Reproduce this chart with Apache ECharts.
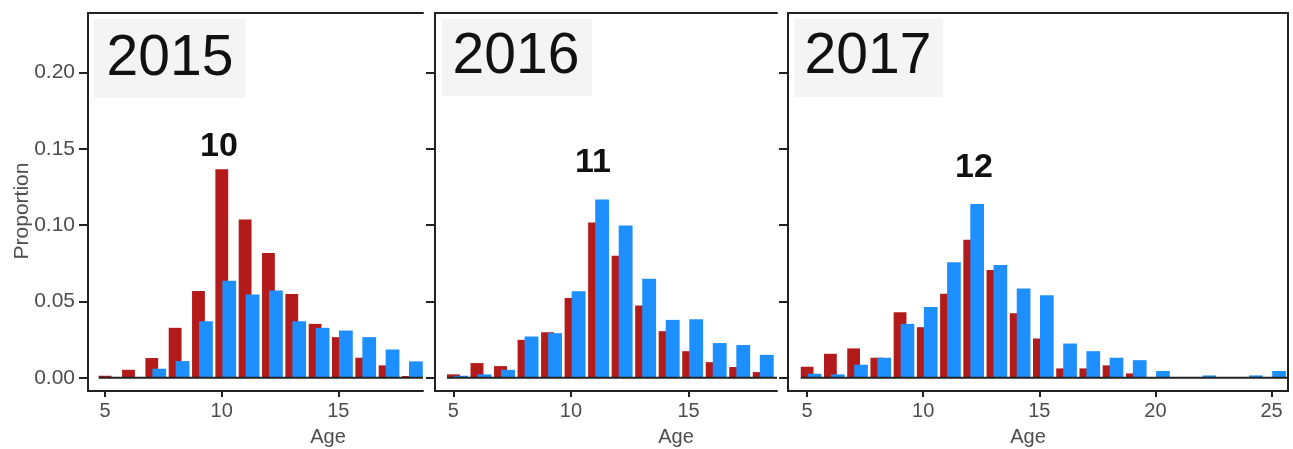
<!DOCTYPE html>
<html>
<head>
<meta charset="utf-8">
<script src="https://cdn.jsdelivr.net/npm/echarts@6/dist/echarts.min.js"></script>
<style>
html,body{margin:0;padding:0;background:#fff;}
#chart{width:1293px;height:449px;}
</style>
</head>
<body>
<div id="chart"></div>
<script>
// ---- data ----
const years = ['2015', '2016', '2017'];
const peakLabels = ['10', '11', '12'];
const ages2015 = [5, 6, 7, 8, 9, 10, 11, 12, 13, 14, 15, 16, 17, 18];
const red2015  = [0.0013, 0.0052, 0.0129, 0.0327, 0.0569, 0.1366, 0.1037, 0.0817, 0.0549, 0.0353, 0.0266, 0.0131, 0.0081, 0.0011];
const blue2015 = [0, 0, 0.0059, 0.0109, 0.0370, 0.0636, 0.0545, 0.0571, 0.0370, 0.0327, 0.0309, 0.0266, 0.0185, 0.0107];
const ages2016 = [5, 6, 7, 8, 9, 10, 11, 12, 13, 14, 15, 16, 17, 18];
const red2016  = [0.0022, 0.0096, 0.0076, 0.0248, 0.0298, 0.0523, 0.1017, 0.0800, 0.0473, 0.0305, 0.0174, 0.0102, 0.0070, 0.0037];
const blue2016 = [0.0013, 0.0022, 0.0052, 0.0270, 0.0292, 0.0566, 0.1168, 0.0998, 0.0649, 0.0379, 0.0383, 0.0227, 0.0214, 0.0150];
const ages2017 = [5, 6, 7, 8, 9, 10, 11, 12, 13, 14, 15, 16, 17, 18, 19, 20, 21, 22, 23, 24, 25];
const red2017  = [0.0072, 0.0157, 0.0192, 0.0131, 0.0429, 0.0331, 0.0551, 0.0904, 0.0706, 0.0423, 0.0257, 0.0061, 0.0061, 0.0081, 0.0028, 0, 0, 0, 0, 0, 0];
const blue2017 = [0.0026, 0.0022, 0.0085, 0.0131, 0.0353, 0.0464, 0.0756, 0.1139, 0.0739, 0.0584, 0.0540, 0.0224, 0.0174, 0.0131, 0.0115, 0.0044, 0, 0.0015, 0, 0.0015, 0.0044];
const yTicks = [0, 0.05, 0.10, 0.15, 0.20];
const xTicksShort = [5, 10, 15];
const xTicksLong = [5, 10, 15, 20, 25];

// ---- layout / style ----
const FONT = "'Liberation Sans', Arial, sans-serif";
const RED = '#b31b1b', BLUE = '#1e8fff', LINE = '#222';
const panels = [
  {ages: ages2015, red: red2015, blue: blue2015, xmin: 4.27, xmax: 18.63, ticks: xTicksShort, grid: {left: 88, top: 13, width: 335, height: 378}, labels: true, right: false},
  {ages: ages2016, red: red2016, blue: blue2016, xmin: 4.22, xmax: 18.76, ticks: xTicksShort, grid: {left: 435, top: 13, width: 342, height: 378}, labels: false, right: false},
  {ages: ages2017, red: red2017, blue: blue2017, xmin: 4.18, xmax: 25.71, ticks: xTicksLong, grid: {left: 788, top: 13, width: 500, height: 378}, labels: false, right: true}
];
const YMIN = -0.0087, YMAX = 0.239;

function barRenderer(l, r, color) {
  return function (params, api) {
    const age = api.value(0), v = api.value(1);
    if (!v) return null;
    const p0 = api.coord([age + l, v]);
    const p1 = api.coord([age + r, 0]);
    return {type: 'rect', shape: {x: p0[0], y: p0[1], width: p1[0] - p0[0], height: p1[1] - p0[1]}, style: {fill: color}};
  };
}

const grid = [], xAxis = [], yAxis = [], series = [];
panels.forEach((p, i) => {
  grid.push(Object.assign({containLabel: false}, p.grid));
  const xb = xAxis.length;
  xAxis.push({
    type: 'value', gridIndex: i, min: p.xmin, max: p.xmax, position: 'bottom',
    axisLine: {show: true, onZero: false, lineStyle: {color: LINE, width: 2}},
    axisTick: {show: true, inside: false, customValues: p.ticks, length: 6, lineStyle: {color: LINE, width: 2}},
    axisLabel: {show: true, customValues: p.ticks, margin: 10, color: '#4d4d4d', fontSize: 20, fontFamily: FONT},
    splitLine: {show: false}
  });
  xAxis.push({
    type: 'value', gridIndex: i, min: p.xmin, max: p.xmax, position: 'top',
    axisLine: {show: true, onZero: false, lineStyle: {color: LINE, width: 2}},
    axisTick: {show: false}, axisLabel: {show: false}, splitLine: {show: false}
  });
  const yl = yAxis.length;
  yAxis.push({
    type: 'value', gridIndex: i, min: YMIN, max: YMAX, position: 'left',
    axisLine: {show: true, onZero: false, lineStyle: {color: LINE, width: 2}},
    axisTick: {show: true, inside: false, customValues: yTicks, length: 9, lineStyle: {color: LINE, width: 2}},
    axisLabel: {show: p.labels, customValues: yTicks, margin: 13, color: '#4d4d4d', fontSize: 21, fontFamily: FONT,
      formatter: v => Number(v).toFixed(2)},
    splitLine: {show: false}
  });
  if (p.right) {
    yAxis.push({
      type: 'value', gridIndex: i, min: YMIN, max: YMAX, position: 'right',
      axisLine: {show: true, onZero: false, lineStyle: {color: LINE, width: 2}},
      axisTick: {show: false}, axisLabel: {show: false}, splitLine: {show: false}
    });
  }
  series.push({
    type: 'custom', xAxisIndex: xb, yAxisIndex: yl, renderItem: barRenderer(-0.27, 0.28, RED),
    data: p.ages.map((a, k) => [a, p.red[k]]), silent: true
  });
  series.push({
    type: 'custom', xAxisIndex: xb, yAxisIndex: yl, renderItem: barRenderer(0.03, 0.62, BLUE),
    data: p.ages.map((a, k) => [a, p.blue[k]]), silent: true
  });
  series.push({
    type: 'line', xAxisIndex: xb, yAxisIndex: yl, showSymbol: false, silent: true, z: 5,
    lineStyle: {color: LINE, width: 2},
    data: [[p.ages[0] - 0.27, 0], [p.xmax, 0]]
  });
});

const yearBoxes = [
  {x: 94, y: 19, w: 151, h: 79, tx: 170, ty: 59},
  {x: 442, y: 19, w: 150, h: 77, tx: 516, ty: 57},
  {x: 795, y: 19, w: 148, h: 78, tx: 868, ty: 57}
];
const peakPos = [[219, 147], [593, 163], [974, 168]];
const agePos = [[328, 437], [676, 437], [1028, 437]];

const graphic = [];
yearBoxes.forEach((b, i) => {
  graphic.push({type: 'rect', shape: {x: b.x, y: b.y, width: b.w, height: b.h}, style: {fill: '#f4f4f4'}, z: 1});
  graphic.push({type: 'text', x: b.tx, y: b.ty, z: 2, style: {text: years[i], fontSize: 57, fontFamily: FONT, fill: '#111', align: 'center', verticalAlign: 'middle'}});
  graphic.push({type: 'text', x: peakPos[i][0], y: peakPos[i][1], z: 2, style: {text: peakLabels[i], fontSize: 34, fontWeight: 'bold', fontFamily: FONT, fill: '#111', align: 'center', verticalAlign: 'middle'}});
  graphic.push({type: 'text', x: agePos[i][0], y: agePos[i][1], z: 2, style: {text: 'Age', fontSize: 20, fontFamily: FONT, fill: '#4d4d4d', align: 'center', verticalAlign: 'middle'}});
});
graphic.push({type: 'text', x: 22, y: 211, rotation: Math.PI / 2, z: 2, style: {text: 'Proportion', fontSize: 21, fontFamily: FONT, fill: '#4d4d4d', align: 'center', verticalAlign: 'middle'}});

const chart = echarts.init(document.getElementById('chart'), null, {renderer: 'canvas'});
chart.setOption({animation: false, backgroundColor: '#fff', grid, xAxis, yAxis, series, graphic});
</script>
</body>
</html>
